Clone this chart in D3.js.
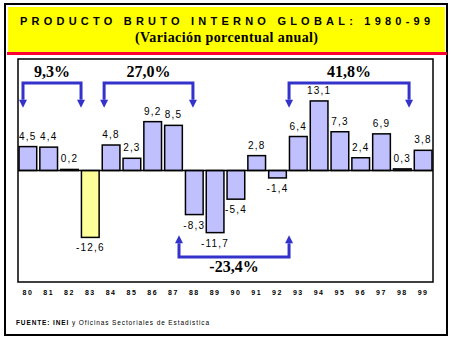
<!DOCTYPE html>
<html><head><meta charset="utf-8">
<script src="https://cdn.jsdelivr.net/npm/d3@7"></script>
<style>body{margin:0;background:#fff}svg{display:block}</style>
</head><body>
<svg id="c" width="451" height="340"></svg>
<script>
const years = ["80","81","82","83","84","85","86","87","88","89","90","91","92","93","94","95","96","97","98","99"];
const values = [4.5,4.4,0.2,-12.6,4.8,2.3,9.2,8.5,-8.3,-11.7,-5.4,2.8,-1.4,6.4,13.1,7.3,2.4,6.9,0.3,3.8];
const valueLabels = ["4,5","4,4","0,2","-12,6","4,8","2,3","9,2","8,5","-8,3","-11,7","-5,4","2,8","-1,4","6,4","13,1","7,3","2,4","6,9","0,3","3,8"];
const highlightYears = ["83"];
// brackets: start/end expressed in category-index units, level in value units
const bracketLabels = ["9,3%","27,0%","41,8%","-23,4%"];
const bracketStart = [0.19, 4.09, 12.98, 7.69];
const bracketEnd = [2.98, 8.36, 18.75, 12.98];
const bracketLevel = [16.5, 16.5, 16.5, -16.3];
const bracketTip = [11.8, 11.8, 11.8, -12.2];
const titleText = "PRODUCTO BRUTO INTERNO GLOBAL: 1980-99";
const subtitleText = "(Variación porcentual anual)";
const sourceBold = "FUENTE: INEI";
const sourceRest = " y Oficinas Sectoriales de Estadística";

const svg = d3.select("#c");
const plot = {x0:18, x1:433, y0:59, y1:282};

// frame & header
svg.append("rect").attr("x",5).attr("y",4).attr("width",442).attr("height",331)
  .attr("fill","#fff").attr("stroke","#000").attr("stroke-width",2);
svg.append("rect").attr("x",8).attr("y",7).attr("width",437).attr("height",45).attr("fill","#ffff00");
svg.append("rect").attr("x",7).attr("y",52).attr("width",440).attr("height",3).attr("fill","#ff0033");
svg.append("text").attr("x",20).attr("y",25).attr("textLength",410).attr("lengthAdjust","spacing")
  .attr("font-family","Liberation Sans, Arial, sans-serif").attr("font-weight","bold").attr("font-size",11)
  .text(titleText);
svg.append("text").attr("x",135).attr("y",42).attr("textLength",183).attr("lengthAdjust","spacing")
  .attr("font-family","Liberation Serif, Times New Roman, serif").attr("font-weight","bold").attr("font-size",14)
  .text(subtitleText);

// scales
const x = d3.scaleBand().domain(years).range([plot.x0, plot.x1]).paddingInner(0.15).paddingOuter(0.05);
const y = d3.scaleLinear().domain([-21, 21]).range([plot.y1, plot.y0]);
const xi = d3.scaleLinear().domain([0,1]).range([x(years[0]), x(years[0]) + x.step()]);

svg.append("rect").attr("x",plot.x0).attr("y",plot.y0).attr("width",plot.x1-plot.x0).attr("height",plot.y1-plot.y0)
  .attr("fill","#fff").attr("stroke","#000").attr("stroke-width",1.5);

const data = years.map((k,i)=>({k, v:values[i], lab:valueLabels[i]}));

svg.append("g").selectAll("rect").data(data).join("rect")
  .attr("x",d=>x(d.k)).attr("width",x.bandwidth())
  .attr("y",d=>y(Math.max(0,d.v))).attr("height",d=>Math.abs(y(d.v)-y(0)))
  .attr("fill",d=>highlightYears.includes(d.k)?"#ffff99":"#c0c0ff")
  .attr("stroke","#000").attr("stroke-width",1.5);

svg.append("line").attr("x1",plot.x0).attr("x2",plot.x1).attr("y1",y(0)).attr("y2",y(0))
  .attr("stroke","#000").attr("stroke-width",1.5);

svg.append("g").selectAll("text").data(data).join("text")
  .attr("x",d=>x(d.k)+x.bandwidth()/2)
  .attr("y",d=>d.v>=0 ? y(d.v)-7 : y(d.v)+14)
  .attr("text-anchor","middle")
  .attr("font-family","Liberation Sans, Arial, sans-serif").attr("font-size",10).attr("letter-spacing",1.2)
  .text(d=>d.lab);

// x axis labels
const ax = svg.append("g").attr("transform","translate(0,290)")
  .call(d3.axisBottom(x).tickSize(0).tickPadding(0));
ax.select(".domain").remove();
ax.selectAll("text").attr("font-family","Liberation Sans, Arial, sans-serif").attr("font-size",7)
  .attr("font-weight","bold").attr("letter-spacing",1.5).attr("fill","#000");

// brackets
const blue = "#3333cc";
const bg = svg.append("g");
bracketLabels.forEach((lab,i)=>{
  const xa = xi(bracketStart[i]), xb = xi(bracketEnd[i]);
  const yl = y(bracketLevel[i]), yt = y(bracketTip[i]);
  const dir = yt > yl ? 1 : -1;
  const ah = 8, aw = 4;
  const yb = yt - dir*ah;
  bg.append("path").attr("d",`M${xa},${yb}V${yl}H${xb}V${yb}`)
    .attr("fill","none").attr("stroke",blue).attr("stroke-width",3);
  [xa,xb].forEach(xx=>{
    bg.append("path").attr("d",`M${xx-aw},${yb}L${xx+aw},${yb}L${xx},${yt}Z`).attr("fill",blue);
  });
  bg.append("text").attr("x",(xa+xb)/2).attr("y", dir>0 ? yl-6 : yl+15)
    .attr("text-anchor","middle")
    .attr("font-family","Liberation Serif, Times New Roman, serif").attr("font-weight","bold").attr("font-size",16)
    .text(lab);
});

// source
const src = svg.append("text").attr("x",16).attr("y",325).attr("textLength",193).attr("lengthAdjust","spacing")
  .attr("font-family","Liberation Sans, Arial, sans-serif").attr("font-size",6.5);
src.append("tspan").attr("font-weight","bold").text(sourceBold);
src.append("tspan").text(sourceRest);
</script>
</body></html>
